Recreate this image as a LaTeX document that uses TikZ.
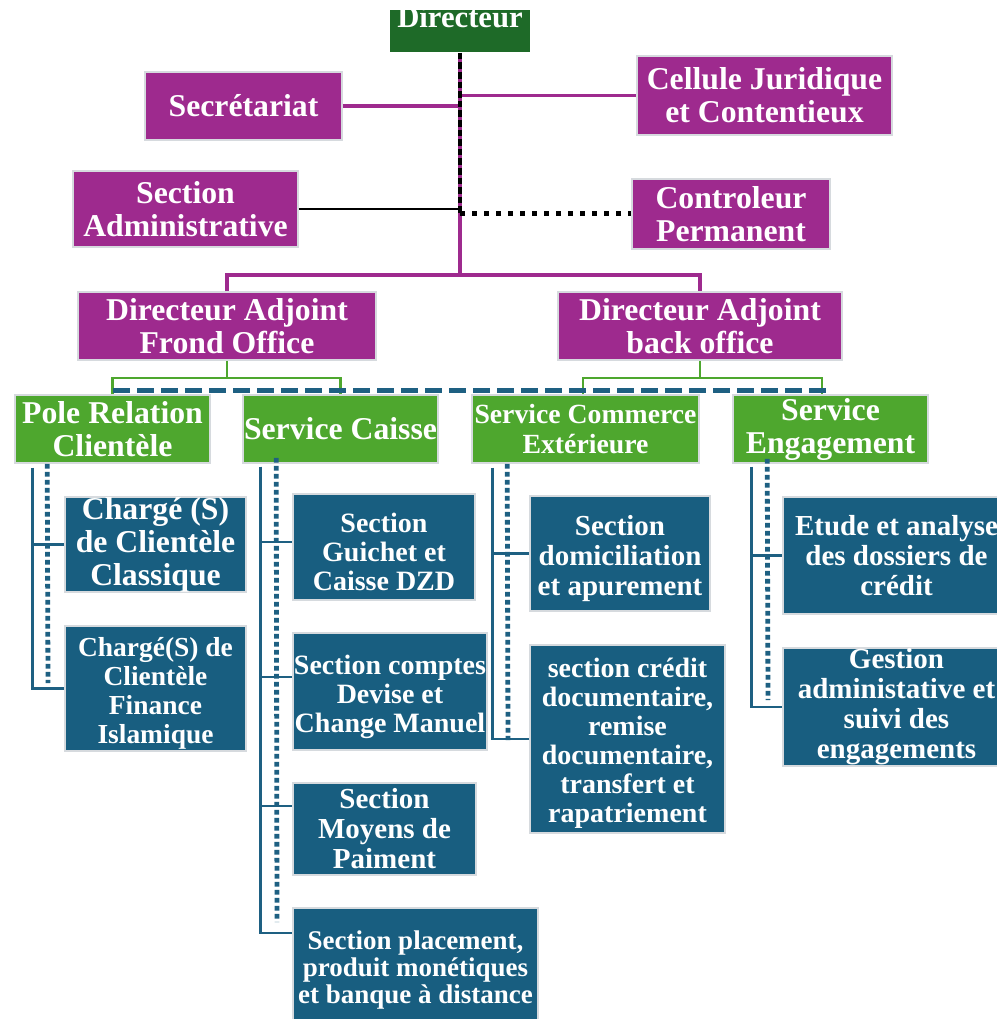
\documentclass[tikz,border=0pt]{standalone}
\usepackage{fontspec}
\setmainfont{Liberation Serif}
\usetikzlibrary{calc}
\definecolor{purp}{RGB}{158,42,142}
\definecolor{dgreen}{RGB}{30,106,40}
\definecolor{lgreen}{RGB}{78,167,46}
\definecolor{dblue}{RGB}{24,94,128}
\definecolor{blin}{RGB}{30,96,130}
\definecolor{edgec}{RGB}{214,218,222}
\begin{document}
\begin{tikzpicture}[x=0.75pt,y=-0.75pt,
 base/.style={draw=edgec, line width=1.2pt, inner sep=0pt, align=center, text=white, font=\bfseries\fontsize{23.8pt}{24.75pt}\selectfont},
 pbox/.style={base, fill=purp},
 gbox/.style={base, fill=lgreen},
 bbox/.style={base, fill=dblue},
 dbox/.style={base, fill=dgreen, draw=none},
 sz/.style 2 args={minimum width=#1*0.75pt, minimum height=#2*0.75pt},
 fs/.style 2 args={font=\bfseries\fontsize{#1pt}{#2pt}\selectfont},
 pline/.style={draw=purp, line width=2.3pt},
 pvline/.style={draw=purp, line width=3pt},
 kline/.style={draw=black, line width=2.2pt},
 kdash/.style={draw=black, line width=2.8pt, dash pattern=on 5pt off 2.2pt},
 kdot/.style={draw=black, line width=3.75pt, dash pattern=on 3.75pt off 5.25pt},
 gline/.style={draw=lgreen, line width=1.7pt},
 bline/.style={draw=blin, line width=2.2pt},
 bdash/.style={draw=blin, line width=3.9pt, dash pattern=on 12.75pt off 5.25pt},
 bdot/.style={draw=blin, line width=3.6pt, dash pattern=on 3.6pt off 2.4pt}]
\useasboundingbox (0,0) rectangle (996,1019);
\fill[white] (0,0) rectangle (996,1019);

% top level
\node[dbox, fs={23}{24}, text height=13.5pt, text depth=18pt, minimum width=105pt] (dir) at (460,31) {Directeur};
\node[pbox, sz={197}{68}] (secr) at (243.5,106) {Secrétariat};
\node[pbox, sz={255}{79}] (cell) at (764.5,95.5) {Cellule Juridique\\et Contentieux};
\node[pbox, sz={225}{76}] (sadm) at (185.5,209) {Section\\Administrative};
\node[pbox, sz={198}{70}] (ctrl) at (731,214) {Controleur\\Permanent};
\node[pbox, sz={298}{68}] (dafo) at (227,326) {Directeur Adjoint\\Frond Office};
\node[pbox, sz={284}{68}] (dabo) at (700,326) {Directeur Adjoint\\back office};

% services
\node[gbox, sz={195}{68}] (pole) at (112.5,429) {Pole Relation\\Clientèle};
\node[gbox, sz={195}{68}] (caisse) at (340.5,429) {Service Caisse};
\node[gbox, sz={227}{68}, fs={20.8}{22.5}] (comm) at (585.5,429) {Service Commerce\\Extérieure};
\node[gbox, sz={195}{68}] (eng) at (830.5,429) {Service\\Engagement};

% sections
\node[bbox, sz={181}{95}] (ch1) at (155.5,544.5) {Chargé (S)\\de Clientèle\\Classique};
\node[bbox, sz={181}{125}, fs={20.6}{21.75}] (ch2) at (155.5,688.5) {\rule{0pt}{21.5pt}Chargé(S) de\\Clientèle\\Finance\\Islamique};
\node[bbox, sz={182}{106}, fs={21}{21.75}] (sg) at (384,547) {\rule{0pt}{21.5pt}Section\\Guichet et\\Caisse DZD};
\node[bbox, sz={194}{117}, fs={21}{21.75}] (sc) at (390,691.5) {\rule{0pt}{22pt}Section comptes\\Devise et\\Change Manuel};
\node[bbox, sz={183}{92}, fs={21.75}{22.5}] (sm) at (384.5,829) {Section\\Moyens de\\Paiment};
\node[bbox, sz={245}{116}, fs={20.25}{20.6}] (sp) at (415.5,966) {\rule{0pt}{20pt}Section placement,\\produit monétiques\\et banque à distance};
\node[bbox, sz={180}{115}, fs={21.75}{22.5}] (sd) at (620,553.5) {\rule{0pt}{22pt}Section\\domiciliation\\et apurement};
\node[bbox, sz={195}{188}, fs={21}{21.75}] (scd) at (627.5,739) {\rule{0pt}{21.5pt}section crédit\\documentaire,\\remise\\documentaire,\\transfert et\\rapatriement};
\node[bbox, sz={227}{117}, fs={21.75}{22.5}] (ea) at (896.5,555.5) {Etude et analyse\\des dossiers de\\crédit};
\node[bbox, sz={227}{118}, fs={21.75}{22.5}] (ga) at (896.5,707) {Gestion\\administative et\\suivi des\\engagements};

% top connectors
\coordinate (j0) at (460,275);
\draw[pvline] (dir.south) -- (j0);
\draw[pline] (secr.east) -- (secr.east -| j0);
\draw[pline] (cell.west -| j0) -- (cell.west);
\draw[kline] (sadm.east) -- (sadm.east -| j0);
\draw[kdash] (dir.south) -- (ctrl.west -| j0);
\draw[kdot] (ctrl.west -| j0) -- (ctrl.west);
\draw[pline] (dafo.north) |- (j0) -| (dabo.north);

% green connectors
\coordinate (g1) at (227,378);
\coordinate (g2) at (700,378);
\draw[gline] (dafo.south) -- (g1);
\draw[gline] (pole.north) |- (g1) -| (caisse.north);
\draw[gline] (dabo.south) -- (g2);
\draw[gline] ($(comm.north)+(-2.5,0)$) |- (g2) -| ($(eng.north)+(-8.5,0)$);
\draw[bdash] ($(pole.north)+(0.5,-4)$) -- ($(eng.north)+(-2.5,-4)$);

% Pole tree
\coordinate (pt) at ($(pole.south west)+(18,4)$);
\draw[bline] (pt) |- (ch1.west);
\draw[bline] (pt) |- (ch2.west);
\coordinate (pdend) at (48,683);
\draw[bdot] ($(pole.south west)+(33,0)$) -- (pdend);

% Caisse tree
\coordinate (ct) at ($(caisse.south west)+(18,3)$);
\draw[bline] (ct) |- ($(sg.west)+(0,-5)$);
\draw[bline] (ct) |- ($(sc.west)+(0,-14.5)$);
\draw[bline] (ct) |- ($(sm.west)+(0,-23)$);
\draw[bline] (ct) |- ($(sp.west)+(0,-33)$);
\coordinate (cdend) at (277,922);
\draw[bdot] ($(caisse.south west)+(34,-6)$) -- (cdend);

% Commerce tree
\coordinate (mt) at ($(comm.south west)+(21,4)$);
\draw[bline] (mt) |- (sd.west);
\draw[bline] (mt) |- (scd.west);
\coordinate (mdend) at (508,740);
\draw[bdot] ($(comm.south west)+(36,0)$) -- (mdend);

% Engagement tree
\coordinate (et) at ($(eng.south west)+(19,3)$);
\draw[bline] (et) |- (ea.west);
\draw[bline] (et) |- (ga.west);
\coordinate (edend) at (768,700);
\draw[bdot] ($(eng.south west)+(35,-5)$) -- (edend);
\end{tikzpicture}
\end{document}
